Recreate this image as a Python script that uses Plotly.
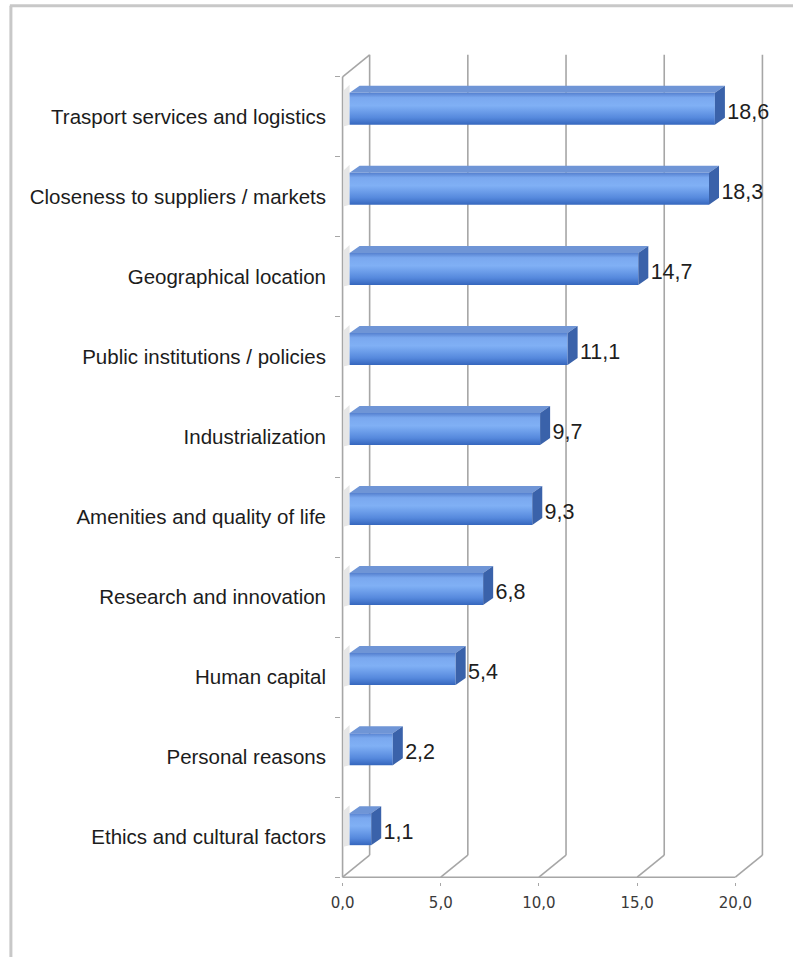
import plotly.graph_objects as go

# ---- data (top to bottom as shown) ----
categories = [
    "Trasport services and logistics",
    "Closeness to suppliers / markets",
    "Geographical location",
    "Public institutions / policies",
    "Industrialization",
    "Amenities and quality of life",
    "Research and innovation",
    "Human capital",
    "Personal reasons",
    "Ethics and cultural factors",
]
values = [18.6, 18.3, 14.7, 11.1, 9.7, 9.3, 6.8, 5.4, 2.2, 1.1]
x_ticks = [0, 5, 10, 15, 20]

# ---- layout geometry (pixels) ----
W, H = 793, 957
S = 19.6          # px per value unit
SY = 80.0         # px per category row
X0PX, Y0PX = 343, 877   # front origin in pixels
DX = 27 / S       # wall depth offset (x, value units)
DY = 22 / SY      # wall depth offset (y, row units)
BX, BY = 7 / S, 8 / SY       # bar front face offset into the depth
BDX, BDY = 10 / S, 7 / SY    # bar depth
BH = 32 / SY                 # bar height
PADX, PADY = 0.08, 0.06

n = len(categories)
xr = [-PADX, x_ticks[-1] + DX + PADX]
yr = [-PADY, n + DY + PADY]
ml = X0PX - PADX * S
mr = W - (X0PX + xr[1] * S)
mb = H - (Y0PX + PADY * SY)
mt = Y0PX - yr[1] * SY

GRID = "#a6a6a6"
fig = go.Figure()

def seg(xs, ys, color=GRID, width=1.6):
    fig.add_trace(go.Scatter(x=xs, y=ys, mode="lines", hoverinfo="skip",
                             line=dict(color=color, width=width), showlegend=False))

# back wall grid lines + floor diagonals
for t in x_ticks:
    seg([t + DX, t + DX], [DY, n + DY])
    seg([t, t + DX], [0, DY])
# front floor, front left edge, top-left diagonal
seg([x_ticks[0], x_ticks[-1]], [0, 0])
seg([0, 0], [0, n])
seg([0, DX], [n, n + DY])

# bars (rows counted from bottom)
rows = list(range(n))[::-1]   # categories[0] is top row
top_x, top_y, side_x, side_y, sh_x, sh_y = [], [], [], [], [], []
for cat, v, r in zip(categories, values, rows):
    c = r + 0.5
    yb = c + BY - BH / 2
    yt = c + BY + BH / 2
    x0 = BX
    x1 = BX + v
    # left-wall shadow
    sh_x += [0.05, 0.05, BX, BX, 0.05, None]
    sh_y += [yb - 0.02, yt + 0.03, yt + 0.1, yb, yb - 0.02, None]
    # top face
    top_x += [x0, x1, x1 + BDX, x0 + BDX, x0, None]
    top_y += [yt, yt, yt + BDY, yt + BDY, yt, None]
    # side face
    side_x += [x1, x1, x1 + BDX, x1 + BDX, x1, None]
    side_y += [yb, yt, yt + BDY, yb + BDY, yb, None]

fig.add_trace(go.Scatter(x=sh_x, y=sh_y, fill="toself", mode="lines",
                         fillcolor="#e6e6e6", line=dict(width=0), hoverinfo="skip",
                         showlegend=False))

for cat, v, r in zip(categories, values, rows):
    c = r + 0.5
    yb = c + BY - BH / 2
    yt = c + BY + BH / 2
    x0, x1 = BX, BX + v
    fig.add_trace(go.Scatter(
        x=[x0, x1, x1, x0, x0], y=[yb, yb, yt, yt, yb], fill="toself", mode="lines",
        line=dict(width=0, color="#4a78c8"), hoverinfo="skip", showlegend=False,
        fillgradient=dict(type="vertical", colorscale=[
            [0.0, "#3566bd"], [0.22, "#5689dd"], [0.6, "#80b0f5"],
            [0.85, "#7aa8ef"], [1.0, "#5580cf"]]),
        name=cat))

fig.add_trace(go.Scatter(x=top_x, y=top_y, fill="toself", mode="lines",
                         fillcolor="#6f95d6", line=dict(width=0), hoverinfo="skip",
                         showlegend=False))
fig.add_trace(go.Scatter(x=side_x, y=side_y, fill="toself", mode="lines",
                         fillcolor="#3a62aa", line=dict(width=0), hoverinfo="skip",
                         showlegend=False))

# value labels
fig.add_trace(go.Scatter(
    x=[BX + v + BDX + 0.12 for v in values],
    y=[r + 0.5 + 0.04 for r in rows],
    mode="text", text=[f"{v:.1f}".replace(".", ",") for v in values],
    textposition="middle right", cliponaxis=False,
    textfont=dict(family="Liberation Sans, Arial, sans-serif", size=21.5, color="#1e1e1e"),
    hoverinfo="skip", showlegend=False))

fig.update_layout(
    width=W, height=H,
    margin=dict(l=ml, r=mr, t=mt, b=mb, pad=0),
    paper_bgcolor="white", plot_bgcolor="white",
    separators=",.",
    xaxis=dict(range=xr, tickvals=x_ticks, ticktext=[f"{t:.1f}".replace(".", ",") for t in x_ticks],
               showgrid=False, zeroline=False, showline=False,
               ticks="outside", ticklen=3, tickcolor=GRID,
               tickfont=dict(family="DejaVu Sans, Verdana, sans-serif", size=15, color="#3a3a3a"),
               ticklabelstandoff=4, fixedrange=True),
    yaxis=dict(range=yr, tickvals=[r + 0.5 for r in rows], ticktext=categories,
               showgrid=False, zeroline=False, showline=False, ticks="",
               minor=dict(tickvals=list(range(n + 1)), ticks="outside", ticklen=5,
                          tickcolor=GRID, showgrid=False),
               tickfont=dict(family="Liberation Sans, Arial, sans-serif", size=20.5, color="#1c1c1c"),
               ticklabelstandoff=14, fixedrange=True),
    shapes=[
        dict(type="line", xref="paper", yref="paper",
             x0=(12 - ml) / (W - ml - mr), x1=(12 - ml) / (W - ml - mr),
             y0=(H - mb - H) / (H - mt - mb), y1=(H - mb - 6) / (H - mt - mb),
             line=dict(color="#c8c8c8", width=3)),
        dict(type="line", xref="paper", yref="paper",
             x0=(11 - ml) / (W - ml - mr), x1=(W - ml) / (W - ml - mr),
             y0=(H - mb - 6) / (H - mt - mb), y1=(H - mb - 6) / (H - mt - mb),
             line=dict(color="#c8c8c8", width=3)),
    ],
)

fig.write_html("out.html")
